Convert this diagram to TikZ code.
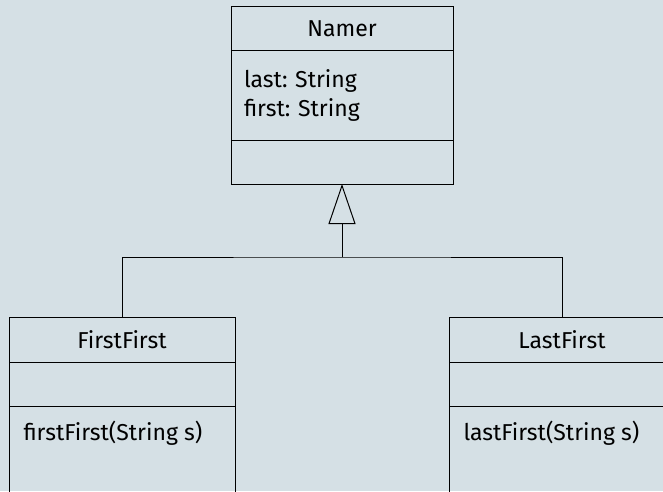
\documentclass[tikz,border=0pt]{standalone}
\usepackage{fontspec}
\setmainfont{Fira Sans}
\frenchspacing
\usetikzlibrary{positioning}
\usetikzlibrary{arrows.meta}
\definecolor{paper}{RGB}{213,224,229}
\tikzset{
  compart/.style={draw, line width=1pt, outer sep=0pt, inner sep=0pt},
  namerpart/.style={compart, minimum width=222pt},
  childpart/.style={compart, minimum width=226pt},
  optext/.style={anchor=base west, inner sep=0pt},
  inherit/.style={-{Triangle[open, length=40pt, width=27pt]}},
}

\begin{document}
\begin{tikzpicture}[x=1pt,y=1pt,
        every node/.style={font=\fontsize{23}{29}\selectfont},
        line width=1pt,
        ]
        \useasboundingbox (0,0) rectangle (663,491);
        \clip (0,0) rectangle (663,491);
        \fill[paper] (0,0) rectangle (663,491);
        % superclass
        \node[namerpart, minimum height=44pt] (namer) at (342,462) {Namer};
        \node[namerpart, minimum height=89pt, text width=196pt, align=left, below=0pt of namer] (namerA) {last: String\\first: String};
        \node[namerpart, minimum height=44pt, below=0pt of namerA] (namerO) {};
        % subclasses
        \node[childpart, minimum height=45pt] (ff) at (122,151.5) {FirstFirst};
        \node[childpart, minimum height=44pt, below=0pt of ff] (ffA) {};
        \node[childpart, minimum height=120pt, below=0pt of ffA] (ffO) {};
        \node[optext] (ffM) at ([xshift=14pt,yshift=-34pt]ffO.north west) {firstFirst(String s)};
        \node[childpart, minimum height=45pt] (lf) at (562,151.5) {LastFirst};
        \node[childpart, minimum height=44pt, below=0pt of lf] (lfA) {};
        \node[childpart, minimum height=120pt, below=0pt of lfA] (lfO) {};
        \node[optext] (lfM) at ([xshift=14pt,yshift=-34pt]lfO.north west) {lastFirst(String s)};
        % generalization
        \coordinate (fork) at (namerO.south |- 0,234);
        \draw[inherit] (fork) -- (namerO.south);
        \draw (ff.north) |- (fork) -| (lf.north);
\end{tikzpicture}
\end{document}
